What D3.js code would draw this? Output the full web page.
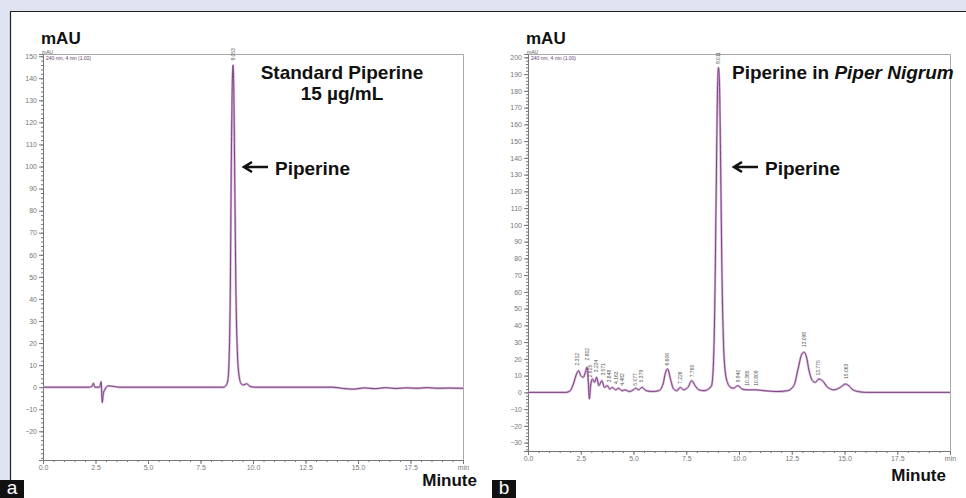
<!DOCTYPE html>
<html lang="en">
<head>
  <meta charset="UTF-8" />
  <title>HPLC chromatograms of piperine</title>
  <script src="https://d3js.org/d3.v7.min.js"></script>
  <style>
    body {
      margin: 0;
      background: #e0e4f2;
      font-family: "Liberation Sans", Arial, sans-serif;
    }
    svg { display: block; }
    .tick text { fill: #777; font-size: 7px; }
    .tick line, .domain { stroke: #777; }
    .big { font-weight: bold; font-size: 19px; fill: #111; }
    .unit { font-weight: bold; font-size: 17px; fill: #111; }
    .plabel { font-size: 5px; fill: #555; }
    .legend { font-size: 5px; fill: #6a3a70; }
  </style>
</head>
<body>
  <svg width="966" height="498"></svg>
  <script>
    // Panel a: standard piperine 15 ug/mL (time in min, signal in mAU)
    const timeA = [0, 2.2, 2.33, 2.4, 2.47, 2.7, 2.77, 2.82, 2.87, 2.95, 3.1, 3.4, 3.6,
      8.6, 8.72, 8.8, 8.86, 8.92, 8.97, 9.02, 9.05, 9.09, 9.14, 9.19, 9.26, 9.34, 9.44, 9.55, 9.7, 9.85, 10.1,
      13.8, 14.3, 14.8, 15.3, 15.8, 16.3, 16.8, 17.3, 17.8, 18.3, 18.8, 19.3, 20];
    const signalA = [0, 0, 0.3, 1.8, 0, 0, 2.5, -7, -3, -1, 0.6, 0.3, 0,
      0, 0.8, 3, 12, 45, 105, 140, 146, 132, 85, 42, 15, 5, 1.5, 1, 1.6, 0.4, 0,
      0, -0.6, -0.9, -0.3, -0.7, -0.2, -0.6, -0.3, -0.5, -0.2, -0.5, -0.4, -0.5];
    const peakTimesA = [9.053];
    const peakTextA = ["9.053"];
    const peakBaseA = [148];

    // Panel b: piperine in Piper nigrum extract
    const timeB = [0, 1.8, 2.0, 2.15, 2.3, 2.4, 2.5, 2.62, 2.72, 2.8, 2.86, 2.91, 2.96, 3.05, 3.15, 3.25,
      3.36, 3.5, 3.62, 3.76, 3.87, 4.0, 4.15, 4.3, 4.45, 4.6, 4.8, 5.0, 5.1, 5.25, 5.4, 5.6, 5.9,
      6.2, 6.4, 6.52, 6.62, 6.75, 6.9, 7.05, 7.22, 7.38, 7.58, 7.76, 7.92, 8.1, 8.35, 8.55,
      8.7, 8.78, 8.85, 8.92, 8.98, 9.03, 9.08, 9.14, 9.2, 9.27, 9.35, 9.45, 9.6, 9.75, 9.94, 10.15,
      10.4, 10.8, 11.2, 11.8, 12.3, 12.6, 12.8, 12.95, 13.08, 13.2, 13.32, 13.48, 13.62, 13.78,
      13.95, 14.2, 14.5, 14.8, 15.05, 15.2, 15.4, 15.65, 16, 20];
    const signalB = [0, 0, 1, 5, 11, 13, 10, 9, 12, 15, 6, -4, 3, 8, 6, 9,
      4, 7, 3, 4, 2, 3, 1.5, 2.5, 1, 1.5, 0.5, 1.5, 2.5, 1.5, 3, 1, 0.5,
      1, 5, 12, 14, 8, 2, 1, 3, 1.5, 3, 7, 4, 1.5, 1, 2,
      4, 15, 50, 120, 180, 194, 182, 125, 65, 28, 12, 6, 3, 2.5, 4, 2,
      1.5, 1.5, 1, 0.5, 1, 4, 14, 22, 24, 21, 13, 7, 6, 8,
      7, 3, 1.5, 3, 5, 4, 1.5, 0.5, 0, 0];
    const peakTimesB = [2.312, 2.802, 2.925, 3.224, 3.571, 3.848, 4.163, 4.482, 5.077, 5.379,
      6.606, 7.226, 7.765, 9.011, 9.940, 10.365, 10.809, 13.098, 13.775, 15.063];
    const peakTextB = ["2.312", "2.802", "2.925", "3.224", "3.571", "3.848", "4.163", "4.482", "5.077", "5.379",
      "6.606", "7.226", "7.765", "9.011", "9.940", "10.365", "10.809", "13.098", "13.775", "15.063"];
    const peakBaseB = [16, 19, 9, 12, 10, 6, 5, 4, 4, 6, 16, 5, 9, 196, 6, 4, 4, 27, 10, 8];

    const svg = d3.select("svg");

    // page frame: white sheet with dark left/top edge
    svg.append("rect").attr("x", 10).attr("y", 11).attr("width", 956).attr("height", 487).attr("fill", "#fff");
    svg.append("path").attr("d", "M10.5,498V11.5H966").attr("fill", "none").attr("stroke", "#222").attr("stroke-width", 1.2);

    function drawPanel(p) {
      const x = d3.scaleLinear().domain([0, 20]).range([p.left, p.right]);
      const y = d3.scaleLinear().domain(p.ydom).range([p.bottom, p.top]);
      const g = svg.append("g");

      // top and right frame lines
      g.append("path")
        .attr("d", `M${p.left},${p.top + 0.5}H${p.right + 0.5}V${p.bottom}`)
        .attr("fill", "none").attr("stroke", "#aaa");

      // minor ticks
      const yMinor = d3.range(Math.ceil(p.ydom[0] / 2) * 2, p.ydom[1], 2);
      g.append("g").attr("transform", `translate(${p.left},0)`)
        .call(d3.axisLeft(y).tickValues(yMinor).tickSize(2).tickFormat(""))
        .call(a => a.select(".domain").remove());
      g.append("g").attr("transform", `translate(0,${p.bottom})`)
        .call(d3.axisBottom(x).tickValues(d3.range(0, 20.01, 0.5)).tickSize(2).tickFormat(""))
        .call(a => a.select(".domain").remove());

      // major axes
      g.append("g").attr("transform", `translate(${p.left},0)`)
        .call(d3.axisLeft(y).tickValues(p.yticks).tickSize(4).tickPadding(2).tickFormat(d3.format("d")));
      g.append("g").attr("transform", `translate(0,${p.bottom})`)
        .call(d3.axisBottom(x).tickValues(d3.range(0, 20.01, 2.5)).tickSize(4).tickPadding(1)
          .tickFormat(d => d === 20 ? "min" : d3.format(".1f")(d)))
        .call(a => a.select(".domain").attr("stroke", "#999"));

      // tiny instrument labels
      g.append("text").attr("class", "plabel").attr("x", p.left - 1).attr("y", p.top - 0.5)
        .attr("font-size", 4).text("mAU");
      g.append("text").attr("class", "legend").attr("x", p.left + 3).attr("y", p.top + 6).text(p.legend);

      // trace
      const line = d3.line().x((d, i) => x(p.time[i])).y(d => y(d)).curve(d3.curveMonotoneX);
      g.append("path").datum(p.signal).attr("d", line)
        .attr("fill", "none").attr("stroke", "#d6b6d8").attr("stroke-width", 2.4);
      g.append("path").datum(p.signal).attr("d", line)
        .attr("fill", "none").attr("stroke", "#7b4280").attr("stroke-width", 1);

      // retention time labels
      g.selectAll("text.rt").data(p.peakText).join("text")
        .attr("class", "plabel rt")
        .attr("transform", (d, i) => `translate(${x(p.peakTimes[i]) + 1.8},${y(p.peakBase[i])}) rotate(-90)`)
        .text(d => d);

      // big labels
      svg.append("text").attr("class", "unit").attr("x", p.left - 2).attr("y", 44).text("mAU");
      svg.append("text").attr("class", "unit").attr("x", p.minuteX).attr("y", p.minuteY)
        .attr("text-anchor", "end").text("Minute");

      // panel letter
      svg.append("rect").attr("x", p.letterX).attr("y", 480).attr("width", 24).attr("height", 18).attr("fill", "#111");
      svg.append("text").attr("x", p.letterX + 12).attr("y", 494).attr("text-anchor", "middle")
        .attr("fill", "#fff").attr("font-size", 19).text(p.letter);

      // arrow + "Piperine"
      const ay = 167;
      svg.append("path")
        .attr("d", `M${p.arrowX + 25},${ay}H${p.arrowX + 3}M${p.arrowX + 9},${ay - 5}L${p.arrowX + 1},${ay}L${p.arrowX + 9},${ay + 5}`)
        .attr("fill", "none").attr("stroke", "#111").attr("stroke-width", 2.6);
      svg.append("text").attr("class", "big").attr("x", p.arrowX + 32).attr("y", 175).text("Piperine");
      return { x, y };
    }

    drawPanel({
      left: 43, right: 463, top: 54, bottom: 460, ydom: [-33, 151],
      yticks: d3.range(-20, 151, 10), time: timeA, signal: signalA,
      peakTimes: peakTimesA, peakText: peakTextA, peakBase: peakBaseA,
      legend: "240 nm, 4 nm (1.00)", minuteX: 477, minuteY: 486, letter: "a", letterX: 0, arrowX: 243
    });
    drawPanel({
      left: 528, right: 950, top: 54, bottom: 451, ydom: [-35, 202],
      yticks: d3.range(-30, 201, 10), time: timeB, signal: signalB,
      peakTimes: peakTimesB, peakText: peakTextB, peakBase: peakBaseB,
      legend: "240 nm, 4 nm (1.00)", minuteX: 946, minuteY: 481, letter: "b", letterX: 492, arrowX: 733
    });

    // titles
    svg.append("text").attr("class", "big").attr("x", 342).attr("y", 79).attr("text-anchor", "middle").text("Standard Piperine");
    svg.append("text").attr("class", "big").attr("x", 342).attr("y", 100).attr("text-anchor", "middle").text("15 µg/mL");
    const tb = svg.append("text").attr("class", "big").attr("x", 732).attr("y", 79);
    tb.append("tspan").text("Piperine in ");
    tb.append("tspan").attr("font-style", "italic").text("Piper Nigrum");
  </script>
</body>
</html>
